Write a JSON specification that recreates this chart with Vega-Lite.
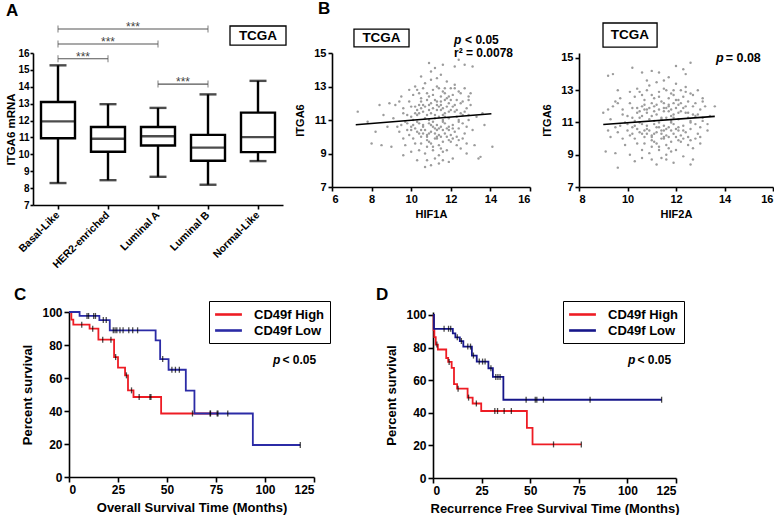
{
 "$schema": "https://vega.github.io/schema/vega-lite/v6.json",
 "background": "white",
 "padding": {"left": 5, "top": 0, "right": 0, "bottom": 0},
 "config": {
  "font": "Liberation Sans",
  "view": {"stroke": null},
  "axis": {"domainColor": "black", "domainWidth": 1.6, "tickColor": "black", "tickWidth": 1.6, "tickSize": 4, "labelColor": "black", "titleColor": "black", "labelFontWeight": "bold", "titleFontWeight": "bold", "grid": false, "labelPadding": 2, "labelOverlap": false, "labelFont": "Liberation Sans", "titleFont": "Liberation Sans"},
  "title": {"anchor": "start", "frame": "group", "fontSize": 17, "fontWeight": "bold", "color": "black", "font": "Liberation Sans"},
  "text": {"font": "Liberation Sans", "color": "black"},
  "legend": {"title": null, "orient": "none", "strokeColor": "black", "fillColor": "white", "padding": 5, "symbolType": "M-2,0H2", "symbolSize": 180, "symbolOffset": 6, "symbolStrokeWidth": 2.6, "labelFontSize": 13, "labelFontWeight": "bold", "labelColor": "black", "labelFont": "Liberation Sans", "rowPadding": 0, "labelOffset": 17}
 },
 "datasets": {
  "boxes": [
   {"subtype": "Basal-Like", "min": 8.3, "q1": 10.95, "median": 11.95, "q3": 13.1, "max": 15.27},
   {"subtype": "HER2-enriched", "min": 8.47, "q1": 10.15, "median": 10.92, "q3": 11.62, "max": 12.97},
   {"subtype": "Luminal A", "min": 8.67, "q1": 10.52, "median": 11.07, "q3": 11.62, "max": 12.75},
   {"subtype": "Luminal B", "min": 8.2, "q1": 9.62, "median": 10.4, "q3": 11.15, "max": 13.55},
   {"subtype": "Normal-Like", "min": 9.6, "q1": 10.13, "median": 11.02, "q3": 12.47, "max": 14.35}
  ],
  "brackets": [
   {"from": "Basal-Like", "to": "Luminal B", "y": 17.42},
   {"from": "Basal-Like", "to": "Luminal A", "y": 16.53},
   {"from": "Basal-Like", "to": "HER2-enriched", "y": 15.66},
   {"from": "Luminal A", "to": "Luminal B", "y": 14.16}
  ],
  "hif1a": [
   {"HIF1A":10.2,"ITGA6":11.4},{"HIF1A":10.8,"ITGA6":10.1},{"HIF1A":11.5,"ITGA6":11.9},{"HIF1A":11.9,"ITGA6":10.6},{"HIF1A":10.5,"ITGA6":12.3},{"HIF1A":11.1,"ITGA6":9.4},{"HIF1A":12.3,"ITGA6":11.2},{"HIF1A":9.8,"ITGA6":10.8},{"HIF1A":11.7,"ITGA6":12.6},{"HIF1A":10.9,"ITGA6":11.0},
   {"HIF1A":11.3,"ITGA6":10.4},{"HIF1A":12.1,"ITGA6":9.9},{"HIF1A":10.1,"ITGA6":9.9},{"HIF1A":9.6,"ITGA6":11.7},{"HIF1A":11.6,"ITGA6":11.3},{"HIF1A":12.6,"ITGA6":12.1},{"HIF1A":10.6,"ITGA6":10.7},{"HIF1A":11.0,"ITGA6":13.4},{"HIF1A":11.4,"ITGA6":8.9},{"HIF1A":12.0,"ITGA6":12.9},
   {"HIF1A":10.3,"ITGA6":12.8},{"HIF1A":9.4,"ITGA6":10.3},{"HIF1A":11.8,"ITGA6":9.2},{"HIF1A":12.4,"ITGA6":10.5},{"HIF1A":10.7,"ITGA6":11.8},{"HIF1A":11.2,"ITGA6":12.2},{"HIF1A":9.9,"ITGA6":12.1},{"HIF1A":12.8,"ITGA6":11.7},{"HIF1A":10.4,"ITGA6":9.2},{"HIF1A":11.5,"ITGA6":10.0},
   {"HIF1A":11.9,"ITGA6":11.5},{"HIF1A":10.0,"ITGA6":11.2},{"HIF1A":12.2,"ITGA6":13.1},{"HIF1A":10.8,"ITGA6":12.6},{"HIF1A":11.6,"ITGA6":9.7},{"HIF1A":9.2,"ITGA6":11.9},{"HIF1A":12.7,"ITGA6":10.2},{"HIF1A":11.1,"ITGA6":10.9},{"HIF1A":10.5,"ITGA6":10.4},{"HIF1A":11.3,"ITGA6":11.6},
   {"HIF1A":12.9,"ITGA6":12.4},{"HIF1A":9.7,"ITGA6":9.5},{"HIF1A":10.9,"ITGA6":9.7},{"HIF1A":11.7,"ITGA6":10.8},{"HIF1A":12.5,"ITGA6":11.4},{"HIF1A":10.2,"ITGA6":13.0},{"HIF1A":11.4,"ITGA6":12.9},{"HIF1A":10.6,"ITGA6":11.5},{"HIF1A":9.5,"ITGA6":12.4},{"HIF1A":12.0,"ITGA6":10.1},
   {"HIF1A":11.0,"ITGA6":10.3},{"HIF1A":10.3,"ITGA6":10.9},{"HIF1A":11.8,"ITGA6":12.3},{"HIF1A":12.3,"ITGA6":9.5},{"HIF1A":10.7,"ITGA6":9.0},{"HIF1A":11.2,"ITGA6":11.1},{"HIF1A":9.9,"ITGA6":10.1},{"HIF1A":12.6,"ITGA6":10.8},{"HIF1A":11.5,"ITGA6":13.7},{"HIF1A":10.1,"ITGA6":12.5},
   {"HIF1A":11.6,"ITGA6":11.0},{"HIF1A":10.4,"ITGA6":11.9},{"HIF1A":11.9,"ITGA6":9.8},{"HIF1A":12.8,"ITGA6":9.6},{"HIF1A":9.3,"ITGA6":10.6},{"HIF1A":11.0,"ITGA6":12.0},{"HIF1A":10.8,"ITGA6":8.6},{"HIF1A":11.3,"ITGA6":9.9},{"HIF1A":12.1,"ITGA6":11.8},{"HIF1A":10.5,"ITGA6":10.0},
   {"HIF1A":11.7,"ITGA6":11.4},{"HIF1A":9.8,"ITGA6":11.3},{"HIF1A":12.4,"ITGA6":12.7},{"HIF1A":10.9,"ITGA6":12.4},{"HIF1A":11.1,"ITGA6":10.6},{"HIF1A":12.2,"ITGA6":10.3},{"HIF1A":10.0,"ITGA6":10.6},{"HIF1A":11.4,"ITGA6":11.2},{"HIF1A":9.6,"ITGA6":9.9},{"HIF1A":12.9,"ITGA6":11.0},
   {"HIF1A":10.6,"ITGA6":12.9},{"HIF1A":11.8,"ITGA6":10.5},{"HIF1A":11.2,"ITGA6":8.7},{"HIF1A":10.2,"ITGA6":10.5},{"HIF1A":12.5,"ITGA6":9.3},{"HIF1A":11.5,"ITGA6":12.4},{"HIF1A":9.1,"ITGA6":11.1},{"HIF1A":10.8,"ITGA6":11.3},{"HIF1A":12.0,"ITGA6":11.6},{"HIF1A":11.3,"ITGA6":13.0},
   {"HIF1A":10.4,"ITGA6":10.2},{"HIF1A":11.6,"ITGA6":12.7},{"HIF1A":12.7,"ITGA6":12.9},{"HIF1A":9.9,"ITGA6":12.8},{"HIF1A":11.0,"ITGA6":9.6},{"HIF1A":10.7,"ITGA6":10.4},{"HIF1A":11.9,"ITGA6":11.1},{"HIF1A":12.3,"ITGA6":12.2},{"HIF1A":10.3,"ITGA6":11.6},{"HIF1A":11.2,"ITGA6":9.9},
   {"HIF1A":13.0,"ITGA6":11.9},{"HIF1A":10.1,"ITGA6":11.0},{"HIF1A":11.4,"ITGA6":10.1},{"HIF1A":12.6,"ITGA6":11.3},{"HIF1A":10.9,"ITGA6":10.8},{"HIF1A":9.7,"ITGA6":10.9},{"HIF1A":11.7,"ITGA6":10.2},{"HIF1A":12.1,"ITGA6":10.7},{"HIF1A":10.5,"ITGA6":11.7},{"HIF1A":11.1,"ITGA6":12.5},
   {"HIF1A":10.8,"ITGA6":9.4},{"HIF1A":12.4,"ITGA6":11.0},{"HIF1A":11.5,"ITGA6":11.6},{"HIF1A":9.4,"ITGA6":12.1},{"HIF1A":11.8,"ITGA6":13.3},{"HIF1A":10.2,"ITGA6":9.6},{"HIF1A":12.8,"ITGA6":10.6},{"HIF1A":11.3,"ITGA6":10.7},{"HIF1A":10.6,"ITGA6":10.2},{"HIF1A":11.6,"ITGA6":9.1},
   {"HIF1A":12.2,"ITGA6":11.9},{"HIF1A":10.0,"ITGA6":11.8},{"HIF1A":11.0,"ITGA6":11.4},{"HIF1A":12.5,"ITGA6":12.6},{"HIF1A":10.4,"ITGA6":12.6},{"HIF1A":11.9,"ITGA6":12.0},{"HIF1A":9.6,"ITGA6":11.4},{"HIF1A":11.2,"ITGA6":10.2},{"HIF1A":12.0,"ITGA6":9.7},{"HIF1A":10.7,"ITGA6":13.2},
   {"HIF1A":11.4,"ITGA6":9.5},{"HIF1A":12.3,"ITGA6":10.0},{"HIF1A":10.9,"ITGA6":11.9},{"HIF1A":11.7,"ITGA6":12.9},{"HIF1A":13.1,"ITGA6":10.4},{"HIF1A":10.3,"ITGA6":10.3},{"HIF1A":11.1,"ITGA6":11.7},{"HIF1A":12.6,"ITGA6":9.9},{"HIF1A":9.8,"ITGA6":10.4},{"HIF1A":11.5,"ITGA6":10.6},
   {"HIF1A":10.5,"ITGA6":9.6},{"HIF1A":12.1,"ITGA6":12.5},{"HIF1A":11.8,"ITGA6":11.8},{"HIF1A":10.1,"ITGA6":10.7},{"HIF1A":11.3,"ITGA6":12.1},{"HIF1A":12.9,"ITGA6":12.2},{"HIF1A":10.8,"ITGA6":10.0},{"HIF1A":11.6,"ITGA6":10.9},{"HIF1A":9.5,"ITGA6":10.7},{"HIF1A":12.4,"ITGA6":9.8},
   {"HIF1A":10.9,"ITGA6":14.4},{"HIF1A":11.2,"ITGA6":14.1},{"HIF1A":11.6,"ITGA6":14.3},{"HIF1A":12.2,"ITGA6":14.2},{"HIF1A":12.4,"ITGA6":14.6},{"HIF1A":11.0,"ITGA6":13.9},{"HIF1A":12.7,"ITGA6":14.3},{"HIF1A":13.1,"ITGA6":14.2},{"HIF1A":11.3,"ITGA6":13.5},{"HIF1A":10.5,"ITGA6":13.6},
   {"HIF1A":10.7,"ITGA6":8.2},{"HIF1A":11.0,"ITGA6":8.3},{"HIF1A":11.4,"ITGA6":8.4},{"HIF1A":11.9,"ITGA6":8.5},{"HIF1A":10.3,"ITGA6":8.6},{"HIF1A":12.1,"ITGA6":8.7},{"HIF1A":11.6,"ITGA6":8.6},{"HIF1A":9.6,"ITGA6":8.9},{"HIF1A":12.8,"ITGA6":9.0},{"HIF1A":10.0,"ITGA6":9.1},
   {"HIF1A":7.3,"ITGA6":11.5},{"HIF1A":7.8,"ITGA6":10.9},{"HIF1A":8.0,"ITGA6":9.6},{"HIF1A":8.4,"ITGA6":11.9},{"HIF1A":8.5,"ITGA6":9.5},{"HIF1A":8.8,"ITGA6":10.6},{"HIF1A":8.6,"ITGA6":11.3},{"HIF1A":9.0,"ITGA6":9.4},{"HIF1A":8.9,"ITGA6":12.0},{"HIF1A":13.5,"ITGA6":8.8},
   {"HIF1A":13.4,"ITGA6":8.7},{"HIF1A":13.7,"ITGA6":10.7},{"HIF1A":14.1,"ITGA6":9.4},{"HIF1A":13.6,"ITGA6":11.4},{"HIF1A":13.3,"ITGA6":11.2},{"HIF1A":13.0,"ITGA6":12.6},{"HIF1A":13.2,"ITGA6":9.5},{"HIF1A":8.2,"ITGA6":10.3},
   {"HIF1A":10.6,"ITGA6":11.9},{"HIF1A":11.2,"ITGA6":11.3},{"HIF1A":11.9,"ITGA6":10.4},{"HIF1A":10.4,"ITGA6":10.8},{"HIF1A":11.5,"ITGA6":12.1},{"HIF1A":12.2,"ITGA6":11.5},{"HIF1A":10.9,"ITGA6":10.2},{"HIF1A":11.3,"ITGA6":11.9},{"HIF1A":12.0,"ITGA6":12.2},{"HIF1A":10.7,"ITGA6":11.1},
   {"HIF1A":11.6,"ITGA6":10.4},{"HIF1A":11.1,"ITGA6":12.8},{"HIF1A":10.3,"ITGA6":11.3},{"HIF1A":12.3,"ITGA6":11.6},{"HIF1A":11.8,"ITGA6":10.0},{"HIF1A":10.8,"ITGA6":12.2},{"HIF1A":11.4,"ITGA6":10.5},{"HIF1A":12.5,"ITGA6":12.0},{"HIF1A":10.5,"ITGA6":12.1},{"HIF1A":11.7,"ITGA6":11.2},
   {"HIF1A":11.0,"ITGA6":10.7},{"HIF1A":12.1,"ITGA6":10.5},{"HIF1A":10.2,"ITGA6":11.8},{"HIF1A":11.5,"ITGA6":9.3},{"HIF1A":12.7,"ITGA6":11.5},{"HIF1A":10.9,"ITGA6":11.6},{"HIF1A":11.3,"ITGA6":10.0},{"HIF1A":11.9,"ITGA6":12.4},{"HIF1A":10.6,"ITGA6":10.6},{"HIF1A":12.4,"ITGA6":10.9},
   {"HIF1A":11.1,"ITGA6":9.2},{"HIF1A":10.0,"ITGA6":10.4},{"HIF1A":11.7,"ITGA6":12.2},{"HIF1A":12.9,"ITGA6":11.3},{"HIF1A":10.4,"ITGA6":11.4},{"HIF1A":11.6,"ITGA6":11.7},{"HIF1A":11.2,"ITGA6":10.5},{"HIF1A":12.2,"ITGA6":12.9},{"HIF1A":10.8,"ITGA6":9.8},{"HIF1A":11.4,"ITGA6":11.8}
  ],
  "hif2a": [
   {"HIF2A":10.4,"ITGA6":11.6},{"HIF2A":11.0,"ITGA6":10.2},{"HIF2A":11.7,"ITGA6":12.0},{"HIF2A":12.1,"ITGA6":10.7},{"HIF2A":10.7,"ITGA6":12.4},{"HIF2A":11.3,"ITGA6":9.5},{"HIF2A":12.5,"ITGA6":11.3},{"HIF2A":10.0,"ITGA6":10.9},{"HIF2A":11.9,"ITGA6":12.7},{"HIF2A":11.1,"ITGA6":11.1},
   {"HIF2A":11.5,"ITGA6":10.5},{"HIF2A":12.3,"ITGA6":10.0},{"HIF2A":10.3,"ITGA6":10.0},{"HIF2A":9.8,"ITGA6":11.8},{"HIF2A":11.8,"ITGA6":11.4},{"HIF2A":12.8,"ITGA6":12.2},{"HIF2A":10.8,"ITGA6":10.8},{"HIF2A":11.2,"ITGA6":13.5},{"HIF2A":11.6,"ITGA6":9.0},{"HIF2A":12.2,"ITGA6":13.0},
   {"HIF2A":10.5,"ITGA6":12.9},{"HIF2A":9.6,"ITGA6":10.4},{"HIF2A":12.0,"ITGA6":9.3},{"HIF2A":12.6,"ITGA6":10.6},{"HIF2A":10.9,"ITGA6":11.9},{"HIF2A":11.4,"ITGA6":12.3},{"HIF2A":10.1,"ITGA6":12.2},{"HIF2A":13.0,"ITGA6":11.8},{"HIF2A":10.6,"ITGA6":9.3},{"HIF2A":11.7,"ITGA6":10.1},
   {"HIF2A":12.1,"ITGA6":11.6},{"HIF2A":10.2,"ITGA6":11.3},{"HIF2A":12.4,"ITGA6":13.2},{"HIF2A":11.0,"ITGA6":12.7},{"HIF2A":11.8,"ITGA6":9.8},{"HIF2A":9.4,"ITGA6":12.0},{"HIF2A":12.9,"ITGA6":10.3},{"HIF2A":11.3,"ITGA6":11.0},{"HIF2A":10.7,"ITGA6":10.5},{"HIF2A":11.5,"ITGA6":11.7},
   {"HIF2A":13.1,"ITGA6":12.5},{"HIF2A":9.9,"ITGA6":9.6},{"HIF2A":11.1,"ITGA6":9.8},{"HIF2A":11.9,"ITGA6":10.9},{"HIF2A":12.7,"ITGA6":11.5},{"HIF2A":10.4,"ITGA6":13.1},{"HIF2A":11.6,"ITGA6":13.0},{"HIF2A":10.8,"ITGA6":11.6},{"HIF2A":9.7,"ITGA6":12.5},{"HIF2A":12.2,"ITGA6":10.2},
   {"HIF2A":11.2,"ITGA6":10.4},{"HIF2A":10.5,"ITGA6":11.0},{"HIF2A":12.0,"ITGA6":12.4},{"HIF2A":12.5,"ITGA6":9.6},{"HIF2A":10.9,"ITGA6":9.1},{"HIF2A":11.4,"ITGA6":11.2},{"HIF2A":10.1,"ITGA6":10.2},{"HIF2A":12.8,"ITGA6":10.9},{"HIF2A":11.7,"ITGA6":13.8},{"HIF2A":10.3,"ITGA6":12.6},
   {"HIF2A":11.8,"ITGA6":11.1},{"HIF2A":10.6,"ITGA6":12.0},{"HIF2A":12.1,"ITGA6":9.9},{"HIF2A":13.0,"ITGA6":9.7},{"HIF2A":9.5,"ITGA6":10.7},{"HIF2A":11.2,"ITGA6":12.1},{"HIF2A":11.0,"ITGA6":8.7},{"HIF2A":11.5,"ITGA6":10.0},{"HIF2A":12.3,"ITGA6":11.9},{"HIF2A":10.7,"ITGA6":10.1},
   {"HIF2A":11.9,"ITGA6":11.5},{"HIF2A":10.0,"ITGA6":11.4},{"HIF2A":12.6,"ITGA6":12.8},{"HIF2A":11.1,"ITGA6":12.5},{"HIF2A":11.3,"ITGA6":10.7},{"HIF2A":12.4,"ITGA6":10.4},{"HIF2A":10.2,"ITGA6":10.7},{"HIF2A":11.6,"ITGA6":11.3},{"HIF2A":9.8,"ITGA6":10.0},{"HIF2A":13.1,"ITGA6":11.1},
   {"HIF2A":10.8,"ITGA6":13.0},{"HIF2A":12.0,"ITGA6":10.6},{"HIF2A":11.4,"ITGA6":8.8},{"HIF2A":10.4,"ITGA6":10.6},{"HIF2A":12.7,"ITGA6":9.4},{"HIF2A":11.7,"ITGA6":12.5},{"HIF2A":9.3,"ITGA6":11.2},{"HIF2A":11.0,"ITGA6":11.4},{"HIF2A":12.2,"ITGA6":11.7},{"HIF2A":11.5,"ITGA6":13.1},
   {"HIF2A":10.6,"ITGA6":10.3},{"HIF2A":11.8,"ITGA6":12.8},{"HIF2A":12.9,"ITGA6":13.0},{"HIF2A":10.1,"ITGA6":12.9},{"HIF2A":11.2,"ITGA6":9.7},{"HIF2A":10.9,"ITGA6":10.5},{"HIF2A":12.1,"ITGA6":11.2},{"HIF2A":12.5,"ITGA6":12.3},{"HIF2A":10.5,"ITGA6":11.7},{"HIF2A":11.4,"ITGA6":10.0},
   {"HIF2A":13.2,"ITGA6":12.0},{"HIF2A":10.3,"ITGA6":11.1},{"HIF2A":11.6,"ITGA6":10.2},{"HIF2A":12.8,"ITGA6":11.4},{"HIF2A":11.1,"ITGA6":10.9},{"HIF2A":9.9,"ITGA6":11.0},{"HIF2A":11.9,"ITGA6":10.3},{"HIF2A":12.3,"ITGA6":10.8},{"HIF2A":10.7,"ITGA6":11.8},{"HIF2A":11.3,"ITGA6":12.6},
   {"HIF2A":11.0,"ITGA6":9.5},{"HIF2A":12.6,"ITGA6":11.1},{"HIF2A":11.7,"ITGA6":11.7},{"HIF2A":9.6,"ITGA6":12.2},{"HIF2A":12.0,"ITGA6":13.4},{"HIF2A":10.4,"ITGA6":9.7},{"HIF2A":13.0,"ITGA6":10.7},{"HIF2A":11.5,"ITGA6":10.8},{"HIF2A":10.8,"ITGA6":10.3},{"HIF2A":11.8,"ITGA6":9.2},
   {"HIF2A":12.4,"ITGA6":12.0},{"HIF2A":10.2,"ITGA6":11.9},{"HIF2A":11.2,"ITGA6":11.5},{"HIF2A":12.7,"ITGA6":12.7},{"HIF2A":10.6,"ITGA6":12.7},{"HIF2A":12.1,"ITGA6":12.1},{"HIF2A":9.8,"ITGA6":11.5},{"HIF2A":11.4,"ITGA6":10.3},{"HIF2A":12.2,"ITGA6":9.8},{"HIF2A":10.9,"ITGA6":13.3},
   {"HIF2A":11.6,"ITGA6":9.6},{"HIF2A":12.5,"ITGA6":10.1},{"HIF2A":11.1,"ITGA6":12.0},{"HIF2A":11.9,"ITGA6":13.0},{"HIF2A":13.3,"ITGA6":10.5},{"HIF2A":10.5,"ITGA6":10.4},{"HIF2A":11.3,"ITGA6":11.8},{"HIF2A":12.8,"ITGA6":10.0},{"HIF2A":10.0,"ITGA6":10.5},{"HIF2A":11.7,"ITGA6":10.7},
   {"HIF2A":10.7,"ITGA6":9.7},{"HIF2A":12.3,"ITGA6":12.6},{"HIF2A":12.0,"ITGA6":11.9},{"HIF2A":10.3,"ITGA6":10.8},{"HIF2A":11.5,"ITGA6":12.2},{"HIF2A":13.1,"ITGA6":12.3},{"HIF2A":11.0,"ITGA6":10.1},{"HIF2A":11.8,"ITGA6":11.0},{"HIF2A":9.7,"ITGA6":10.8},{"HIF2A":12.6,"ITGA6":9.9},
   {"HIF2A":9.2,"ITGA6":13.9},{"HIF2A":9.4,"ITGA6":14.0},{"HIF2A":10.2,"ITGA6":14.4},{"HIF2A":10.6,"ITGA6":14.1},{"HIF2A":11.0,"ITGA6":14.2},{"HIF2A":11.3,"ITGA6":14.1},{"HIF2A":12.0,"ITGA6":14.5},{"HIF2A":12.3,"ITGA6":14.3},{"HIF2A":12.6,"ITGA6":14.7},{"HIF2A":12.4,"ITGA6":14.0},
   {"HIF2A":10.8,"ITGA6":13.6},{"HIF2A":11.5,"ITGA6":13.6},{"HIF2A":9.6,"ITGA6":8.2},{"HIF2A":10.3,"ITGA6":8.6},{"HIF2A":10.6,"ITGA6":8.8},{"HIF2A":11.2,"ITGA6":8.4},{"HIF2A":11.9,"ITGA6":8.5},{"HIF2A":12.6,"ITGA6":8.4},{"HIF2A":12.7,"ITGA6":8.7},{"HIF2A":10.1,"ITGA6":9.0},
   {"HIF2A":12.3,"ITGA6":8.9},{"HIF2A":11.6,"ITGA6":8.7},{"HIF2A":9.0,"ITGA6":11.6},{"HIF2A":9.1,"ITGA6":9.2},{"HIF2A":9.2,"ITGA6":10.5},{"HIF2A":9.3,"ITGA6":10.1},{"HIF2A":9.5,"ITGA6":9.1},{"HIF2A":9.6,"ITGA6":13.0},{"HIF2A":9.5,"ITGA6":12.3},{"HIF2A":13.6,"ITGA6":12.0},
   {"HIF2A":13.4,"ITGA6":11.4},{"HIF2A":13.0,"ITGA6":10.1},{"HIF2A":13.3,"ITGA6":10.9},{"HIF2A":9.2,"ITGA6":11.8},
   {"HIF2A":10.8,"ITGA6":11.8},{"HIF2A":11.4,"ITGA6":11.3},{"HIF2A":12.1,"ITGA6":10.5},{"HIF2A":10.6,"ITGA6":10.9},{"HIF2A":11.7,"ITGA6":12.1},{"HIF2A":12.4,"ITGA6":11.6},{"HIF2A":11.1,"ITGA6":10.3},{"HIF2A":11.5,"ITGA6":11.9},{"HIF2A":12.2,"ITGA6":12.2},{"HIF2A":10.9,"ITGA6":11.2},
   {"HIF2A":11.8,"ITGA6":10.5},{"HIF2A":11.3,"ITGA6":12.9},{"HIF2A":10.5,"ITGA6":11.3},{"HIF2A":12.5,"ITGA6":11.6},{"HIF2A":12.0,"ITGA6":10.1},{"HIF2A":11.0,"ITGA6":12.2},{"HIF2A":11.6,"ITGA6":10.6},{"HIF2A":12.7,"ITGA6":12.0},{"HIF2A":10.7,"ITGA6":12.1},{"HIF2A":11.9,"ITGA6":11.3},
   {"HIF2A":11.2,"ITGA6":10.7},{"HIF2A":12.3,"ITGA6":10.5},{"HIF2A":10.4,"ITGA6":11.9},{"HIF2A":11.7,"ITGA6":9.4},{"HIF2A":12.9,"ITGA6":11.5},{"HIF2A":11.1,"ITGA6":11.7},{"HIF2A":11.5,"ITGA6":10.1},{"HIF2A":12.1,"ITGA6":12.4},{"HIF2A":10.8,"ITGA6":10.6},{"HIF2A":12.6,"ITGA6":11.0},
   {"HIF2A":11.3,"ITGA6":9.3},{"HIF2A":10.2,"ITGA6":10.3},{"HIF2A":11.9,"ITGA6":12.2},{"HIF2A":13.1,"ITGA6":11.3},{"HIF2A":10.6,"ITGA6":11.4},{"HIF2A":11.8,"ITGA6":11.8},{"HIF2A":11.4,"ITGA6":10.5},{"HIF2A":12.4,"ITGA6":12.9},{"HIF2A":11.0,"ITGA6":9.9},{"HIF2A":11.6,"ITGA6":11.9}
  ],
  "km_os": [
   {"group":"CD49f High","months":0,"survival":100,"censored":false},
   {"group":"CD49f High","months":1.2,"survival":95.4,"censored":false},
   {"group":"CD49f High","months":2.2,"survival":92.3,"censored":false},
   {"group":"CD49f High","months":6.5,"survival":92.3,"censored":true},
   {"group":"CD49f High","months":10.5,"survival":89.9,"censored":false},
   {"group":"CD49f High","months":12.1,"survival":89.9,"censored":true},
   {"group":"CD49f High","months":15.0,"survival":83.2,"censored":false},
   {"group":"CD49f High","months":17.2,"survival":83.2,"censored":true},
   {"group":"CD49f High","months":21.4,"survival":83.2,"censored":true},
   {"group":"CD49f High","months":23.0,"survival":72.7,"censored":false},
   {"group":"CD49f High","months":23.8,"survival":72.7,"censored":true},
   {"group":"CD49f High","months":25.0,"survival":66.3,"censored":false},
   {"group":"CD49f High","months":28.6,"survival":61.6,"censored":false},
   {"group":"CD49f High","months":29.3,"survival":61.6,"censored":true},
   {"group":"CD49f High","months":30.1,"survival":52.5,"censored":false},
   {"group":"CD49f High","months":31.9,"survival":52.5,"censored":true},
   {"group":"CD49f High","months":32.9,"survival":48.5,"censored":false},
   {"group":"CD49f High","months":35.8,"survival":48.5,"censored":true},
   {"group":"CD49f High","months":41.3,"survival":48.5,"censored":true},
   {"group":"CD49f High","months":41.8,"survival":48.5,"censored":true},
   {"group":"CD49f High","months":47.0,"survival":38.5,"censored":false},
   {"group":"CD49f High","months":63.0,"survival":38.5,"censored":true},
   {"group":"CD49f High","months":72.0,"survival":38.5,"censored":true},
   {"group":"CD49f High","months":76.0,"survival":38.5,"censored":true},
   {"group":"CD49f Low","months":0,"survival":100,"censored":false},
   {"group":"CD49f Low","months":5.4,"survival":97.6,"censored":false},
   {"group":"CD49f Low","months":9.2,"survival":97.6,"censored":true},
   {"group":"CD49f Low","months":10.0,"survival":97.6,"censored":true},
   {"group":"CD49f Low","months":12.6,"survival":97.6,"censored":true},
   {"group":"CD49f Low","months":13.5,"survival":97.6,"censored":true},
   {"group":"CD49f Low","months":15.5,"survival":95.1,"censored":false},
   {"group":"CD49f Low","months":17.5,"survival":95.1,"censored":true},
   {"group":"CD49f Low","months":19.0,"survival":95.1,"censored":true},
   {"group":"CD49f Low","months":20.8,"survival":88.9,"censored":false},
   {"group":"CD49f Low","months":22.6,"survival":88.9,"censored":true},
   {"group":"CD49f Low","months":23.5,"survival":88.9,"censored":true},
   {"group":"CD49f Low","months":24.4,"survival":88.9,"censored":true},
   {"group":"CD49f Low","months":26.0,"survival":88.9,"censored":true},
   {"group":"CD49f Low","months":27.6,"survival":88.9,"censored":true},
   {"group":"CD49f Low","months":30.5,"survival":88.9,"censored":true},
   {"group":"CD49f Low","months":32.5,"survival":88.9,"censored":true},
   {"group":"CD49f Low","months":35.0,"survival":88.9,"censored":true},
   {"group":"CD49f Low","months":44.2,"survival":82.8,"censored":false},
   {"group":"CD49f Low","months":46.5,"survival":71.5,"censored":false},
   {"group":"CD49f Low","months":47.8,"survival":71.5,"censored":true},
   {"group":"CD49f Low","months":50.8,"survival":65.0,"censored":false},
   {"group":"CD49f Low","months":52.5,"survival":65.0,"censored":true},
   {"group":"CD49f Low","months":54.3,"survival":65.0,"censored":true},
   {"group":"CD49f Low","months":56.3,"survival":65.0,"censored":true},
   {"group":"CD49f Low","months":59.6,"survival":52.3,"censored":false},
   {"group":"CD49f Low","months":64.0,"survival":38.5,"censored":false},
   {"group":"CD49f Low","months":72.2,"survival":38.5,"censored":true},
   {"group":"CD49f Low","months":75.6,"survival":38.5,"censored":true},
   {"group":"CD49f Low","months":81.0,"survival":38.5,"censored":true},
   {"group":"CD49f Low","months":93.8,"survival":19.4,"censored":false},
   {"group":"CD49f Low","months":118.0,"survival":19.4,"censored":true}
  ],
  "km_rfs": [
   {"group":"CD49f High","months":0,"survival":100,"censored":false},
   {"group":"CD49f High","months":0.3,"survival":90.9,"censored":false},
   {"group":"CD49f High","months":0.7,"survival":86.4,"censored":false},
   {"group":"CD49f High","months":1.4,"survival":81.8,"censored":false},
   {"group":"CD49f High","months":2.0,"survival":81.8,"censored":true},
   {"group":"CD49f High","months":2.5,"survival":78.8,"censored":false},
   {"group":"CD49f High","months":6.8,"survival":73.6,"censored":false},
   {"group":"CD49f High","months":7.8,"survival":71.2,"censored":false},
   {"group":"CD49f High","months":8.3,"survival":71.2,"censored":true},
   {"group":"CD49f High","months":9.6,"survival":67.5,"censored":false},
   {"group":"CD49f High","months":10.8,"survival":57.6,"censored":false},
   {"group":"CD49f High","months":12.4,"survival":54.8,"censored":false},
   {"group":"CD49f High","months":12.9,"survival":54.8,"censored":true},
   {"group":"CD49f High","months":17.8,"survival":49.3,"censored":false},
   {"group":"CD49f High","months":18.3,"survival":49.3,"censored":true},
   {"group":"CD49f High","months":20.4,"survival":45.7,"censored":false},
   {"group":"CD49f High","months":22.3,"survival":45.7,"censored":true},
   {"group":"CD49f High","months":24.8,"survival":41.1,"censored":false},
   {"group":"CD49f High","months":31.8,"survival":41.1,"censored":true},
   {"group":"CD49f High","months":33.2,"survival":41.1,"censored":true},
   {"group":"CD49f High","months":36.6,"survival":41.1,"censored":true},
   {"group":"CD49f High","months":40.3,"survival":41.1,"censored":true},
   {"group":"CD49f High","months":48.3,"survival":30.8,"censored":false},
   {"group":"CD49f High","months":51.2,"survival":20.6,"censored":false},
   {"group":"CD49f High","months":62.0,"survival":20.6,"censored":true},
   {"group":"CD49f High","months":76.3,"survival":20.6,"censored":true},
   {"group":"CD49f Low","months":0,"survival":100,"censored":false},
   {"group":"CD49f Low","months":0.5,"survival":91.5,"censored":false},
   {"group":"CD49f Low","months":5.7,"survival":91.5,"censored":true},
   {"group":"CD49f Low","months":8.0,"survival":91.5,"censored":true},
   {"group":"CD49f Low","months":9.1,"survival":91.5,"censored":true},
   {"group":"CD49f Low","months":10.2,"survival":88.7,"censored":false},
   {"group":"CD49f Low","months":11.5,"survival":86.3,"censored":false},
   {"group":"CD49f Low","months":12.5,"survival":86.3,"censored":true},
   {"group":"CD49f Low","months":13.8,"survival":84.0,"censored":false},
   {"group":"CD49f Low","months":14.6,"survival":84.0,"censored":true},
   {"group":"CD49f Low","months":15.6,"survival":80.6,"censored":false},
   {"group":"CD49f Low","months":17.9,"survival":80.6,"censored":true},
   {"group":"CD49f Low","months":19.3,"survival":80.6,"censored":true},
   {"group":"CD49f Low","months":20.0,"survival":75.1,"censored":false},
   {"group":"CD49f Low","months":20.8,"survival":75.1,"censored":true},
   {"group":"CD49f Low","months":22.5,"survival":71.4,"censored":false},
   {"group":"CD49f Low","months":23.8,"survival":71.4,"censored":true},
   {"group":"CD49f Low","months":25.5,"survival":71.4,"censored":true},
   {"group":"CD49f Low","months":26.8,"survival":71.4,"censored":true},
   {"group":"CD49f Low","months":28.5,"survival":67.3,"censored":false},
   {"group":"CD49f Low","months":29.8,"survival":67.3,"censored":true},
   {"group":"CD49f Low","months":30.8,"survival":62.0,"censored":false},
   {"group":"CD49f Low","months":32.3,"survival":62.0,"censored":true},
   {"group":"CD49f Low","months":33.4,"survival":62.0,"censored":true},
   {"group":"CD49f Low","months":34.5,"survival":62.0,"censored":true},
   {"group":"CD49f Low","months":36.2,"survival":48.0,"censored":false},
   {"group":"CD49f Low","months":47.9,"survival":48.0,"censored":true},
   {"group":"CD49f Low","months":52.6,"survival":48.0,"censored":true},
   {"group":"CD49f Low","months":53.4,"survival":48.0,"censored":true},
   {"group":"CD49f Low","months":56.8,"survival":48.0,"censored":true},
   {"group":"CD49f Low","months":80.8,"survival":48.0,"censored":true},
   {"group":"CD49f Low","months":117.6,"survival":48.0,"censored":true}
  ],
  "fit1": [{"HIF1A": 7.2, "ITGA6": 10.72}, {"HIF1A": 14.05, "ITGA6": 11.37}],
  "fit2": [{"HIF2A": 9.0, "ITGA6": 10.88}, {"HIF2A": 13.6, "ITGA6": 11.38}],
  "one": [{"n": 1}]
 },
 "spacing": 259,
 "bounds": "flush",
 "vconcat": [
  {
   "spacing": 49,
   "bounds": "flush",
   "hconcat": [
    {
     "width": 250, "height": 152,
     "title": {"text": "A", "dx": -27, "offset": 1},
     "layer": [
      {"data": {"name": "boxes"}, "mark": {"type": "rule", "strokeWidth": 2.4, "color": "black"},
       "encoding": {
        "x": {"field": "subtype", "type": "nominal", "title": null, "scale": {"type": "band", "domain": ["Basal-Like", "HER2-enriched", "Luminal A", "Luminal B", "Normal-Like"], "paddingInner": 0, "paddingOuter": 0}, "axis": {"labelAngle": -45, "labelAlign": "right", "labelBaseline": "middle", "labelFontSize": 10.5, "labelPadding": 4, "labelOverlap": false}},
        "y": {"field": "min", "type": "quantitative", "title": "ITGA6 mRNA", "scale": {"domain": [7, 16], "nice": false}, "axis": {"values": [7, 8, 9, 10, 11, 12, 13, 14, 15, 16], "format": "d", "tickCount": 30, "labelOverlap": false, "labelFontSize": 10, "titleFontSize": 11.5, "titlePadding": 1, "labelPadding": 1, "tickSize": 3}},
        "y2": {"field": "max"}}},
      {"data": {"name": "boxes"}, "mark": {"type": "bar", "width": 34, "fill": "white", "stroke": "black", "strokeWidth": 2.4},
       "encoding": {
        "x": {"field": "subtype", "type": "nominal", "title": null},
        "y": {"field": "q1", "type": "quantitative", "title": "ITGA6 mRNA", "scale": {"domain": [7, 16], "nice": false}},
        "y2": {"field": "q3"}}},
      {"data": {"name": "boxes"}, "mark": {"type": "tick", "orient": "horizontal", "size": 34, "thickness": 2.4, "color": "black"},
       "encoding": {
        "x": {"field": "subtype", "type": "nominal", "title": null},
        "y": {"field": "median", "type": "quantitative", "title": "ITGA6 mRNA", "scale": {"domain": [7, 16], "nice": false}}}},
      {"data": {"name": "boxes"}, "mark": {"type": "tick", "orient": "horizontal", "size": 17, "thickness": 2.4, "color": "black"},
       "encoding": {
        "x": {"field": "subtype", "type": "nominal", "title": null},
        "y": {"field": "min", "type": "quantitative", "title": "ITGA6 mRNA", "scale": {"domain": [7, 16], "nice": false}}}},
      {"data": {"name": "boxes"}, "mark": {"type": "tick", "orient": "horizontal", "size": 17, "thickness": 2.4, "color": "black"},
       "encoding": {
        "x": {"field": "subtype", "type": "nominal", "title": null},
        "y": {"field": "max", "type": "quantitative", "title": "ITGA6 mRNA", "scale": {"domain": [7, 16], "nice": false}}}},
      {"data": {"name": "brackets"}, "mark": {"type": "rule", "color": "#555555", "strokeWidth": 1.1},
       "encoding": {
        "x": {"field": "from", "type": "nominal", "title": null},
        "x2": {"field": "to"},
        "y": {"field": "y", "type": "quantitative", "title": "ITGA6 mRNA", "scale": {"domain": [7, 16], "nice": false}}}},
      {"data": {"name": "brackets"}, "mark": {"type": "tick", "orient": "vertical", "size": 7, "thickness": 1.1, "color": "#555555"},
       "encoding": {
        "x": {"field": "from", "type": "nominal", "title": null},
        "y": {"field": "y", "type": "quantitative", "title": "ITGA6 mRNA", "scale": {"domain": [7, 16], "nice": false}}}},
      {"data": {"name": "brackets"}, "mark": {"type": "tick", "orient": "vertical", "size": 7, "thickness": 1.1, "color": "#555555"},
       "encoding": {
        "x": {"field": "to", "type": "nominal", "title": null},
        "y": {"field": "y", "type": "quantitative", "title": "ITGA6 mRNA", "scale": {"domain": [7, 16], "nice": false}}}},
      {"data": {"name": "one"}, "mark": {"type": "text", "text": "***", "fontSize": 12, "color": "#444444", "baseline": "alphabetic", "dy": 2},
       "encoding": {"x": {"datum": "HER2-enriched", "type": "nominal", "bandPosition": 1, "title": null}, "y": {"datum": 17.42, "type": "quantitative", "title": "ITGA6 mRNA", "scale": {"domain": [7, 16], "nice": false}}}},
      {"data": {"name": "one"}, "mark": {"type": "text", "text": "***", "fontSize": 12, "color": "#444444", "baseline": "alphabetic", "dy": 2},
       "encoding": {"x": {"datum": "HER2-enriched", "type": "nominal", "bandPosition": 0.5, "title": null}, "y": {"datum": 16.53, "type": "quantitative", "title": "ITGA6 mRNA", "scale": {"domain": [7, 16], "nice": false}}}},
      {"data": {"name": "one"}, "mark": {"type": "text", "text": "***", "fontSize": 12, "color": "#444444", "baseline": "alphabetic", "dy": 2},
       "encoding": {"x": {"datum": "Basal-Like", "type": "nominal", "bandPosition": 1, "title": null}, "y": {"datum": 15.66, "type": "quantitative", "title": "ITGA6 mRNA", "scale": {"domain": [7, 16], "nice": false}}}},
      {"data": {"name": "one"}, "mark": {"type": "text", "text": "***", "fontSize": 12, "color": "#444444", "baseline": "alphabetic", "dy": 2},
       "encoding": {"x": {"datum": "Luminal A", "type": "nominal", "bandPosition": 1, "title": null}, "y": {"datum": 14.16, "type": "quantitative", "title": "ITGA6 mRNA", "scale": {"domain": [7, 16], "nice": false}}}},
      {"data": {"name": "one"}, "mark": {"type": "bar", "width": 56, "fill": "white", "stroke": "black", "strokeWidth": 1.3},
       "encoding": {"x": {"datum": "Normal-Like", "type": "nominal", "title": null}, "y": {"datum": 16.47, "type": "quantitative", "title": "ITGA6 mRNA", "scale": {"domain": [7, 16], "nice": false}}, "y2": {"datum": 17.6}}},
      {"data": {"name": "one"}, "mark": {"type": "text", "text": "TCGA", "fontSize": 13.5, "fontWeight": "bold", "baseline": "middle"},
       "encoding": {"x": {"datum": "Normal-Like", "type": "nominal", "title": null}, "y": {"datum": 17.03, "type": "quantitative", "title": "ITGA6 mRNA", "scale": {"domain": [7, 16], "nice": false}}}}
     ]
    },
    {
     "width": 198, "height": 134,
     "title": {"text": "B", "dx": -14, "offset": 10},
     "layer": [
      {"data": {"name": "hif1a"}, "mark": {"type": "circle", "size": 6, "color": "#9c9c9c", "opacity": 1},
       "encoding": {
        "x": {"field": "HIF1A", "type": "quantitative", "title": "HIF1A", "scale": {"domain": [6, 16], "nice": false}, "axis": {"values": [6, 8, 10, 12, 14, 16], "format": "d", "tickCount": 30, "labelOverlap": false, "labelFontSize": 11, "titleFontSize": 11, "titlePadding": 4}},
        "y": {"field": "ITGA6", "type": "quantitative", "title": "ITGA6", "scale": {"domain": [7, 15], "nice": false}, "axis": {"values": [7, 9, 11, 13, 15], "format": "d", "tickCount": 30, "labelOverlap": false, "labelFontSize": 11, "titleFontSize": 11, "titlePadding": 8}}}},
      {"data": {"name": "fit1"}, "mark": {"type": "line", "color": "black", "strokeWidth": 1.6},
       "encoding": {
        "x": {"field": "HIF1A", "type": "quantitative", "title": "HIF1A", "scale": {"domain": [6, 16], "nice": false}},
        "y": {"field": "ITGA6", "type": "quantitative", "title": "ITGA6", "scale": {"domain": [7, 15], "nice": false}}}},
      {"data": {"name": "one"}, "mark": {"type": "rect", "fill": "white", "stroke": "black", "strokeWidth": 1.3},
       "encoding": {
        "x": {"datum": 7.11, "type": "quantitative", "title": "HIF1A", "scale": {"domain": [6, 16], "nice": false}}, "x2": {"datum": 9.89},
        "y": {"datum": 15.36, "type": "quantitative", "title": "ITGA6", "scale": {"domain": [7, 15], "nice": false}}, "y2": {"datum": 16.43}}},
      {"data": {"name": "one"}, "mark": {"type": "text", "text": "TCGA", "fontSize": 13.5, "fontWeight": "bold", "baseline": "middle"},
       "encoding": {
        "x": {"datum": 8.5, "type": "quantitative", "title": "HIF1A", "scale": {"domain": [6, 16], "nice": false}},
        "y": {"datum": 15.9, "type": "quantitative", "title": "ITGA6", "scale": {"domain": [7, 15], "nice": false}}}},
      {"data": {"name": "one"}, "mark": {"type": "text", "text": "p", "fontSize": 12, "fontWeight": "bold", "fontStyle": "italic", "align": "left", "baseline": "middle"},
       "encoding": {
        "x": {"datum": 12.16, "type": "quantitative", "title": "HIF1A", "scale": {"domain": [6, 16], "nice": false}},
        "y": {"datum": 15.79, "type": "quantitative", "title": "ITGA6", "scale": {"domain": [7, 15], "nice": false}}}},
      {"data": {"name": "one"}, "mark": {"type": "text", "text": "< 0.05", "fontSize": 12, "fontWeight": "bold", "align": "left", "baseline": "middle"},
       "encoding": {
        "x": {"datum": 12.72, "type": "quantitative", "title": "HIF1A", "scale": {"domain": [6, 16], "nice": false}},
        "y": {"datum": 15.79, "type": "quantitative", "title": "ITGA6", "scale": {"domain": [7, 15], "nice": false}}}},
      {"data": {"name": "one"}, "mark": {"type": "text", "text": "r² = 0.0078", "fontSize": 12, "fontWeight": "bold", "align": "left", "baseline": "middle"},
       "encoding": {
        "x": {"datum": 12.16, "type": "quantitative", "title": "HIF1A", "scale": {"domain": [6, 16], "nice": false}},
        "y": {"datum": 14.98, "type": "quantitative", "title": "ITGA6", "scale": {"domain": [7, 15], "nice": false}}}}
     ]
    },
    {
     "width": 194, "height": 134,
     "layer": [
      {"data": {"name": "hif2a"}, "mark": {"type": "circle", "size": 6, "color": "#9c9c9c", "opacity": 1},
       "encoding": {
        "x": {"field": "HIF2A", "type": "quantitative", "title": "HIF2A", "scale": {"domain": [8, 16], "nice": false}, "axis": {"values": [8, 10, 12, 14, 16], "format": "d", "tickCount": 30, "labelOverlap": false, "labelFontSize": 11, "titleFontSize": 11, "titlePadding": 4}},
        "y": {"field": "ITGA6", "type": "quantitative", "title": "ITGA6", "scale": {"domain": [7, 15.31], "nice": false}, "axis": {"values": [7, 9, 11, 13, 15], "format": "d", "tickCount": 30, "labelOverlap": false, "labelFontSize": 11, "titleFontSize": 11, "titlePadding": 8}}}},
      {"data": {"name": "fit2"}, "mark": {"type": "line", "color": "black", "strokeWidth": 1.6},
       "encoding": {
        "x": {"field": "HIF2A", "type": "quantitative", "title": "HIF2A", "scale": {"domain": [8, 16], "nice": false}},
        "y": {"field": "ITGA6", "type": "quantitative", "title": "ITGA6", "scale": {"domain": [7, 15.31], "nice": false}}}},
      {"data": {"name": "one"}, "mark": {"type": "rect", "fill": "white", "stroke": "black", "strokeWidth": 1.3},
       "encoding": {
        "x": {"datum": 8.99, "type": "quantitative", "title": "HIF2A", "scale": {"domain": [8, 16], "nice": false}}, "x2": {"datum": 11.22},
        "y": {"datum": 15.68, "type": "quantitative", "title": "ITGA6", "scale": {"domain": [7, 15.31], "nice": false}}, "y2": {"datum": 17.17}}},
      {"data": {"name": "one"}, "mark": {"type": "text", "text": "TCGA", "fontSize": 13.5, "fontWeight": "bold", "baseline": "middle"},
       "encoding": {
        "x": {"datum": 10.1, "type": "quantitative", "title": "HIF2A", "scale": {"domain": [8, 16], "nice": false}},
        "y": {"datum": 16.43, "type": "quantitative", "title": "ITGA6", "scale": {"domain": [7, 15.31], "nice": false}}}},
      {"data": {"name": "one"}, "mark": {"type": "text", "text": "p", "fontSize": 12.5, "fontWeight": "bold", "fontStyle": "italic", "align": "left", "baseline": "middle"},
       "encoding": {
        "x": {"datum": 13.65, "type": "quantitative", "title": "HIF2A", "scale": {"domain": [8, 16], "nice": false}},
        "y": {"datum": 14.98, "type": "quantitative", "title": "ITGA6", "scale": {"domain": [7, 15.31], "nice": false}}}},
      {"data": {"name": "one"}, "mark": {"type": "text", "text": "= 0.08", "fontSize": 12.5, "fontWeight": "bold", "align": "left", "baseline": "middle"},
       "encoding": {
        "x": {"datum": 14.05, "type": "quantitative", "title": "HIF2A", "scale": {"domain": [8, 16], "nice": false}},
        "y": {"datum": 14.98, "type": "quantitative", "title": "ITGA6", "scale": {"domain": [7, 15.31], "nice": false}}}}
     ]
    }
   ]
  },
  {
   "spacing": 35,
   "bounds": "flush",
   "hconcat": [
    {"width": 1, "height": 1, "data": {"name": "one"}, "mark": {"type": "point", "opacity": 0}, "encoding": {}},
    {
     "spacing": 119,
     "bounds": "flush",
     "resolve": {"scale": {"color": "independent"}, "legend": {"color": "independent"}},
     "hconcat": [
      {
       "width": 245, "height": 165,
       "title": {"text": "C", "dx": -55, "offset": -3},
       "layer": [
        {"data": {"name": "km_os"}, "mark": {"type": "line", "interpolate": "step-after", "strokeWidth": 1.8},
         "encoding": {
          "x": {"field": "months", "type": "quantitative", "title": "Overall Survival Time (Months)", "scale": {"domain": [0, 125], "nice": false}, "axis": {"values": [0, 25, 50, 75, 100, 125], "format": "d", "tickCount": 30, "labelOverlap": false, "labelFontSize": 12, "titleFontSize": 13, "titlePadding": 6, "tickSize": 5}},
          "y": {"field": "survival", "type": "quantitative", "title": "Percent survival", "scale": {"domain": [0, 100], "nice": false}, "axis": {"values": [0, 20, 40, 60, 80, 100], "format": "d", "tickCount": 30, "labelOverlap": false, "labelFontSize": 12, "titleFontSize": 13, "titlePadding": 7, "tickSize": 5}},
          "color": {"field": "group", "type": "nominal", "scale": {"domain": ["CD49f High", "CD49f Low"], "range": ["#ee1c24", "#2b2ba6"]},
           "legend": {"orient": "none", "legendX": 140, "legendY": -11}}}},
        {"data": {"name": "km_os"}, "transform": [{"filter": "datum.censored"}], "mark": {"type": "tick", "orient": "vertical", "size": 6, "thickness": 1.3, "color": "black"},
         "encoding": {
          "x": {"field": "months", "type": "quantitative", "title": "Overall Survival Time (Months)", "scale": {"domain": [0, 125], "nice": false}},
          "y": {"field": "survival", "type": "quantitative", "title": "Percent survival", "scale": {"domain": [0, 100], "nice": false}}}},
        {"data": {"name": "one"}, "mark": {"type": "text", "text": "p", "fontSize": 12, "fontWeight": "bold", "fontStyle": "italic", "align": "left", "baseline": "middle"},
         "encoding": {
          "x": {"datum": 104.1, "type": "quantitative", "title": "Overall Survival Time (Months)", "scale": {"domain": [0, 125], "nice": false}},
          "y": {"datum": 70.9, "type": "quantitative", "title": "Percent survival", "scale": {"domain": [0, 100], "nice": false}}}},
        {"data": {"name": "one"}, "mark": {"type": "text", "text": "< 0.05", "fontSize": 12, "fontWeight": "bold", "align": "left", "baseline": "middle"},
         "encoding": {
          "x": {"datum": 108.9, "type": "quantitative", "title": "Overall Survival Time (Months)", "scale": {"domain": [0, 125], "nice": false}},
          "y": {"datum": 70.9, "type": "quantitative", "title": "Percent survival", "scale": {"domain": [0, 100], "nice": false}}}}
       ]
      },
      {
       "width": 243, "height": 166,
       "title": {"text": "D", "dx": -57, "offset": -3},
       "layer": [
        {"data": {"name": "km_rfs"}, "mark": {"type": "line", "interpolate": "step-after", "strokeWidth": 1.8},
         "encoding": {
          "x": {"field": "months", "type": "quantitative", "title": "Recurrence Free Survival Time (Months)", "scale": {"domain": [0, 125], "nice": false}, "axis": {"values": [0, 25, 50, 75, 100, 125], "format": "d", "tickCount": 30, "labelOverlap": false, "labelFontSize": 12, "titleFontSize": 13, "titlePadding": 6, "tickSize": 5}},
          "y": {"field": "survival", "type": "quantitative", "title": "Percent survival", "scale": {"domain": [0, 101.8], "nice": false}, "axis": {"values": [0, 20, 40, 60, 80, 100], "format": "d", "tickCount": 30, "labelOverlap": false, "labelFontSize": 12, "titleFontSize": 13, "titlePadding": 7, "tickSize": 5}},
          "color": {"field": "group", "type": "nominal", "scale": {"domain": ["CD49f High", "CD49f Low"], "range": ["#ee1c24", "#16168a"]},
           "legend": {"orient": "none", "legendX": 130, "legendY": -11}}}},
        {"data": {"name": "km_rfs"}, "transform": [{"filter": "datum.censored"}], "mark": {"type": "tick", "orient": "vertical", "size": 6, "thickness": 1.3, "color": "black"},
         "encoding": {
          "x": {"field": "months", "type": "quantitative", "title": "Recurrence Free Survival Time (Months)", "scale": {"domain": [0, 125], "nice": false}},
          "y": {"field": "survival", "type": "quantitative", "title": "Percent survival", "scale": {"domain": [0, 101.8], "nice": false}}}},
        {"data": {"name": "one"}, "mark": {"type": "text", "text": "p", "fontSize": 12, "fontWeight": "bold", "fontStyle": "italic", "align": "left", "baseline": "middle"},
         "encoding": {
          "x": {"datum": 100.3, "type": "quantitative", "title": "Recurrence Free Survival Time (Months)", "scale": {"domain": [0, 125], "nice": false}},
          "y": {"datum": 72.4, "type": "quantitative", "title": "Percent survival", "scale": {"domain": [0, 101.8], "nice": false}}}},
        {"data": {"name": "one"}, "mark": {"type": "text", "text": "< 0.05", "fontSize": 12, "fontWeight": "bold", "align": "left", "baseline": "middle"},
         "encoding": {
          "x": {"datum": 105.2, "type": "quantitative", "title": "Recurrence Free Survival Time (Months)", "scale": {"domain": [0, 125], "nice": false}},
          "y": {"datum": 72.4, "type": "quantitative", "title": "Percent survival", "scale": {"domain": [0, 101.8], "nice": false}}}}
       ]
      }
     ]
    }
   ]
  }
 ]
}
